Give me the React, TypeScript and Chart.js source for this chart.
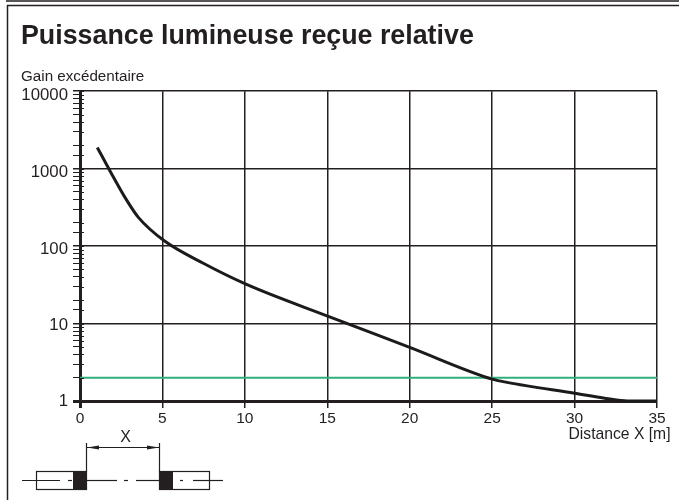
import React, { useEffect, useRef } from "react";
import { Chart, registerables } from "chart.js";

Chart.register(...registerables);

const titleText = "Puissance lumineuse reçue relative";
const yAxisLabel = "Gain excédentaire";
const xAxisLabel = "Distance X [m]";
const curveX = [1.05, 1.82, 2.83, 3.54, 5.11, 7.48, 10.1, 15.1, 20, 25.06, 25.9, 30, 31.9, 33.2, 35];
const curveY = [1878, 935, 392, 235, 117, 60, 32, 12.3, 4.93, 1.9, 1.74, 1.256, 1.08, 1, 1];
const limitX = [0, 35];
const limitY = [2, 2];
const decades = [1, 10, 100, 1000, 10000];
const labelShift: Record<number, number> = { 1: 0, 10: 2, 100: 3, 1000: 3.5, 10000: 4 };

const INK = "#231f20";

const zip = (xs: number[], ys: number[]) => xs.map((x, i) => ({ x, y: ys[i] }));

const decorations = {
  id: "decorations",
  beforeDraw(chart: any) {
    const items = chart.scales.y.getLabelItems();
    if (!chart.$shifted) {
      items.forEach((it: any) => {
        const v = Number(it.label);
        it.options.translation[1] += labelShift[v] ?? 0;
      });
      chart.$shifted = true;
    }
  },
  afterDatasetsDraw(chart: any) {
    const { ctx } = chart;
    const y = chart.scales.y;
    const x0 = chart.chartArea.left;
    ctx.save();
    ctx.strokeStyle = INK;
    ctx.lineWidth = 1;
    y.ticks.forEach((t: any) => {
      const p = Math.round(y.getPixelForValue(t.value)) + 0.5;
      ctx.beginPath();
      ctx.moveTo(x0, p);
      ctx.lineTo(x0 + 4, p);
      ctx.stroke();
    });
    ctx.restore();
  },
  afterDraw(chart: any) {
    const { ctx } = chart;
    ctx.save();
    ctx.strokeStyle = INK;
    ctx.fillStyle = INK;

    // page frame
    ctx.lineWidth = 1.5;
    ctx.beginPath();
    ctx.moveTo(6, 1);
    ctx.lineTo(679, 1);
    ctx.moveTo(679, 5.5);
    ctx.lineTo(7.5, 5.5);
    ctx.lineTo(7.5, 500);
    ctx.stroke();

    // axis caption
    ctx.font = "15.7px 'Liberation Sans'";
    ctx.textAlign = "right";
    ctx.textBaseline = "middle";
    ctx.fillText(xAxisLabel, 670.5, 435);

    // sensor diagram
    ctx.lineWidth = 1.2;
    const line = (a: number, b: number, c: number, d: number) => {
      ctx.beginPath();
      ctx.moveTo(a, b);
      ctx.lineTo(c, d);
      ctx.stroke();
    };
    line(86.5, 443, 86.5, 472);
    line(159.5, 443, 159.5, 472);
    line(87, 447.5, 159, 447.5);
    ctx.beginPath();
    ctx.moveTo(87, 447.5);
    ctx.lineTo(99, 445.5);
    ctx.lineTo(99, 449.5);
    ctx.closePath();
    ctx.fill();
    ctx.beginPath();
    ctx.moveTo(159, 447.5);
    ctx.lineTo(147, 445.5);
    ctx.lineTo(147, 449.5);
    ctx.closePath();
    ctx.fill();
    ctx.strokeRect(36.5, 471.5, 50, 18);
    ctx.strokeRect(159.5, 471.5, 50, 18);
    ctx.fillRect(73, 471, 14, 19);
    ctx.fillRect(159, 471, 14, 19);
    [
      [22, 60],
      [68, 72],
      [87, 117],
      [124, 128],
      [136, 159],
      [180, 183],
      [193, 223],
    ].forEach(([a, b]) => line(a, 480.5, b, 480.5));
    ctx.font = "16px 'Liberation Sans'";
    ctx.textAlign = "center";
    ctx.fillText("X", 125.5, 438);
    ctx.restore();
  },
};

export default function App() {
  const ref = useRef<HTMLCanvasElement>(null);
  useEffect(() => {
    const chart = new Chart(ref.current!, {
      type: "line",
      data: {
        datasets: [
          {
            data: zip(curveX, curveY),
            borderColor: "#1d1a1b",
            borderWidth: 3,
            pointRadius: 0,
            cubicInterpolationMode: "monotone",
            clip: false,
          },
          {
            data: zip(limitX, limitY),
            borderColor: "#2fb17a",
            borderWidth: 2,
            pointRadius: 0,
          },
        ],
      },
      options: {
        animation: false,
        responsive: false,
        layout: { padding: { left: 21, right: 22, top: 23, bottom: 0 } },
        plugins: {
          legend: { display: false },
          tooltip: { enabled: false },
          title: {
            display: true,
            text: titleText,
            align: "start",
            color: INK,
            font: { family: "'Liberation Sans'", size: 26.8, weight: "bold", lineHeight: 1 },
            padding: 0,
          },
          subtitle: {
            display: true,
            text: yAxisLabel,
            align: "start",
            color: INK,
            font: { family: "'Liberation Sans'", size: 15.2, weight: "normal", lineHeight: 1 },
            padding: { top: 19.5, bottom: 6.7 },
          },
        },
        scales: {
          x: {
            type: "linear",
            min: 0,
            max: 35,
            afterFit: (s: any) => {
              s.height = 99;
            },
            ticks: {
              stepSize: 5,
              maxRotation: 0,
              color: INK,
              padding: 1,
              font: { family: "'Liberation Sans'", size: 15.5 },
            },
            grid: {
              color: INK,
              tickColor: INK,
              tickLength: 7,
              lineWidth: (c: any) => (c.tick && c.tick.value === 0 ? 3 : 1.5),
              tickWidth: (c: any) => (c.tick && c.tick.value === 0 ? 3 : 1.5),
            },
            border: { display: false },
          },
          y: {
            type: "logarithmic",
            min: 1,
            max: 10000,
            afterFit: (s: any) => {
              s.width = 59;
            },
            afterBuildTicks: (s: any) => {
              s.ticks = s.ticks.filter((t: any) => t.value >= 1 && t.value <= 10000);
            },
            ticks: {
              autoSkip: false,
              color: INK,
              padding: 5,
              font: { family: "'Liberation Sans'", size: 16.8 },
              callback: (v: any) => (decades.includes(Number(v)) ? String(v) : ""),
            },
            grid: {
              tickLength: 7,
              color: (c: any) => (c.tick && decades.includes(c.tick.value) ? INK : "transparent"),
              tickColor: INK,
              lineWidth: (c: any) =>
                c.tick && c.tick.value === 1 ? 3 : c.tick && decades.includes(c.tick.value) ? 1.5 : 1,
              tickWidth: (c: any) =>
                c.tick && c.tick.value === 1 ? 3 : c.tick && decades.includes(c.tick.value) ? 1.5 : 1,
            },
            border: { display: false },
          },
        },
      },
      plugins: [decorations],
    } as any);
    return () => chart.destroy();
  }, []);
  return (
    <div style={{ position: "absolute", left: 0, top: 0, width: 679, height: 500, background: "#fff" }}>
      <canvas ref={ref} width={679} height={500} style={{ display: "block" }} />
    </div>
  );
}
